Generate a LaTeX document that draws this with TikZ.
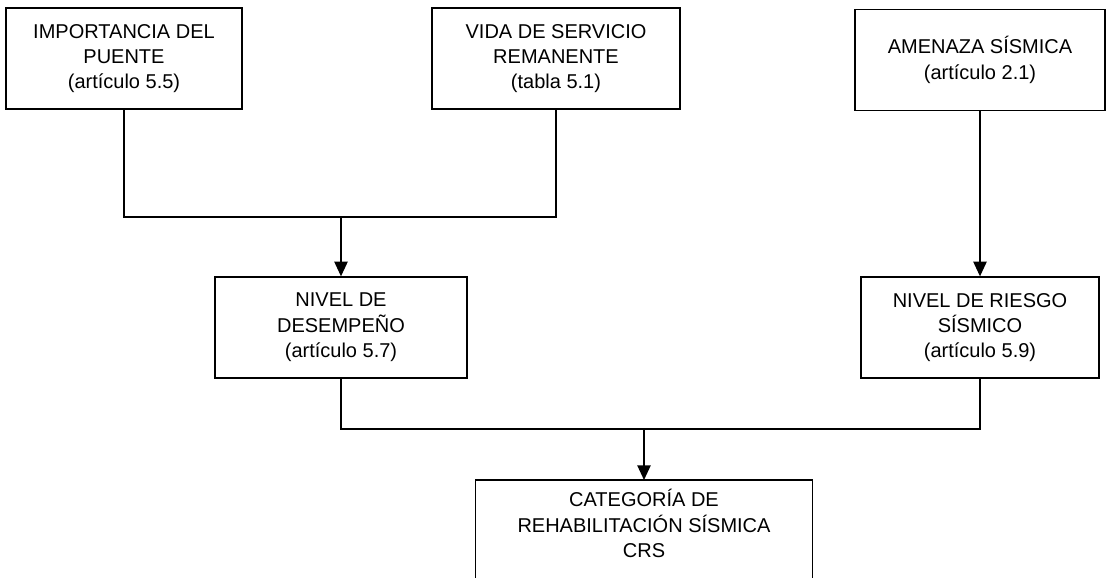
\documentclass[tikz,border=0pt]{standalone}
\usepackage{fontspec}
\setmainfont{Liberation Sans}
\usetikzlibrary{arrows.meta}

\tikzset{
  box/.style={draw, line width=1pt, inner sep=0pt, align=center,
    font=\fontsize{15}{19}\selectfont, minimum height=75.75pt},
  link/.style={line width=1pt},
  arr/.style={link, -{Triangle[length=11pt,width=10pt]}},
}

\begin{document}
\begin{tikzpicture}[x=0.75pt,y=-0.75pt]
  \clip (0,0) rectangle (1110,578);
  \fill[white] (0,0) rectangle (1110,578);

  % inputs
  \node[box, minimum width=177pt]   (b1) at (124,58.5) {IMPORTANCIA DEL\\PUENTE\\(artículo 5.5)};
  \node[box, minimum width=186pt]   (b2) at (556,58.5) {VIDA DE SERVICIO\\REMANENTE\\(tabla 5.1)};
  \node[box, minimum width=187.5pt] (b3) at (980,60) {AMENAZA SÍSMICA\\(artículo 2.1)};

  % intermediate levels
  \node[box, minimum width=189pt]   (b4) at (341,327.5) {NIVEL DE\\DESEMPEÑO\\(artículo 5.7)};
  \node[box, minimum width=178.5pt] (b5) at (980,327.5) {NIVEL DE RIESGO\\SÍSMICO\\(artículo 5.9)};

  % result (box continues below the page edge)
  \node[align=center, font=\fontsize{15}{19}\selectfont, inner xsep=0pt,
        inner ysep=7pt, minimum width=252pt, anchor=north] (b6) at (644,480)
        {CATEGORÍA DE\\REHABILITACIÓN SÍSMICA\\CRS};
  \draw[link] (b6.north west) ++(0,140) -- (b6.north west) -- (b6.north east) -- ++(0,140);

  % connectors
  \coordinate (j1) at (b4.north |- 0,217);
  \coordinate (j2) at (b6.north |- 0,429);
  \draw[link] (b1.south) |- (j1) -| (b2.south);
  \draw[arr] (j1) -- (b4.north);
  \draw[arr] (b3.south) -- (b5.north);
  \draw[link] (b4.south) |- (j2) -| (b5.south);
  \draw[arr] (j2) -- (b6.north);
\end{tikzpicture}
\end{document}
